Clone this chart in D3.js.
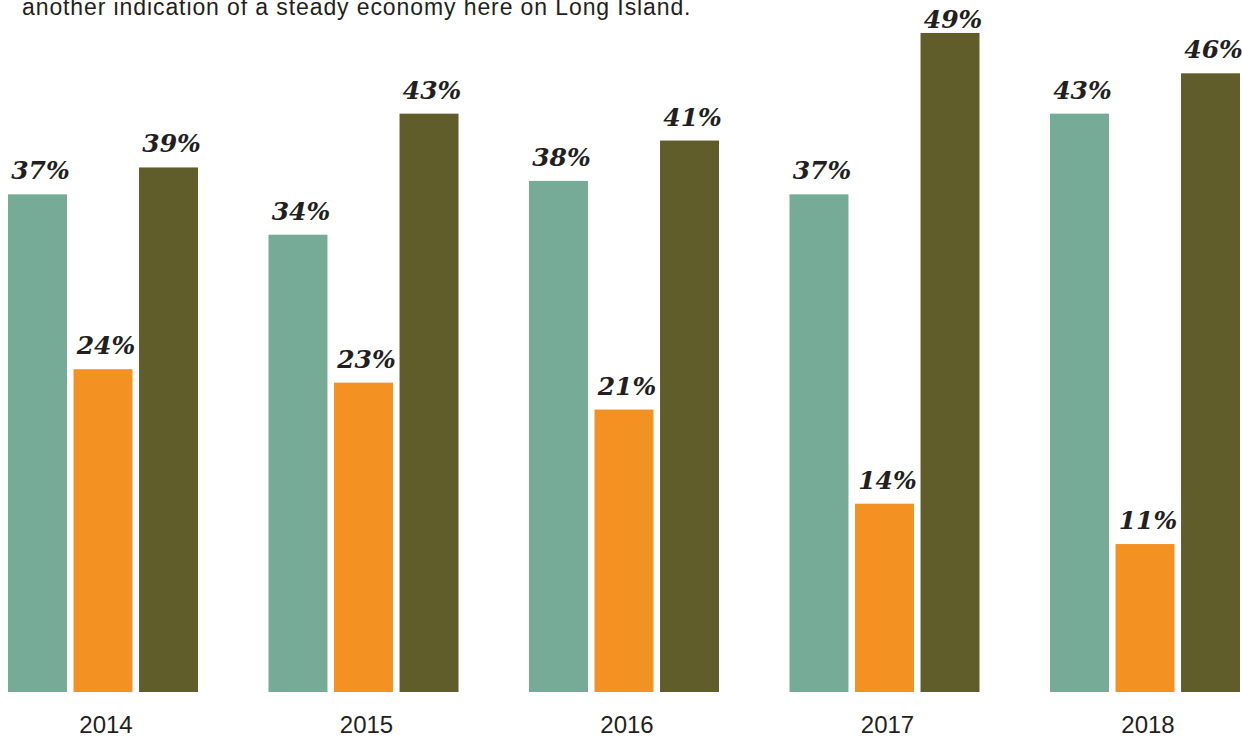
<!DOCTYPE html>
<html><head><meta charset="utf-8">
<script src="https://cdn.jsdelivr.net/npm/d3@7"></script>
<style>
html,body{margin:0;padding:0;background:#fff;overflow:hidden;}
svg{display:block;}
</style></head>
<body>
<svg id="chart" width="1242" height="741"></svg>
<script>
const years = ["2014","2015","2016","2017","2018"];
const seriesNames = ["A","B","C"];
const seriesA = [37, 34, 38, 37, 43];
const seriesB = [24, 23, 21, 14, 11];
const seriesC = [39, 43, 41, 49, 46];
const colors = ["#75ab97", "#f39123", "#605d2a"];
const introText = "another indication of a steady economy here on Long Island.";

const svg = d3.select("#chart");
const baseY = 692;

const x0 = d3.scaleBand().domain(years).range([8, 1240]).paddingInner(0.2706).paddingOuter(0);
const x1 = d3.scaleBand().domain(seriesNames).range([0, x0.bandwidth()]).paddingInner(0.1);
const y = d3.scaleLinear().domain([0, 50]).range([baseY, baseY - 50 * 13.45]);

svg.append("text")
  .attr("x", 22).attr("y", 15)
  .attr("font-family", "Liberation Sans, Arial, sans-serif")
  .attr("font-size", 23)
  .attr("letter-spacing", 0.9)
  .attr("fill", "#231f20")
  .text(introText);

const data = years.map((yr, i) => ({
  year: yr,
  vals: [seriesA[i], seriesB[i], seriesC[i]]
}));

const g = svg.selectAll("g.grp").data(data).enter().append("g")
  .attr("class", "grp")
  .attr("transform", d => `translate(${x0(d.year)},0)`);

g.selectAll("rect").data(d => d.vals.map((v, j) => ({v, s: seriesNames[j], j})))
  .enter().append("rect")
  .attr("x", d => x1(d.s))
  .attr("width", x1.bandwidth())
  .attr("y", d => y(d.v))
  .attr("height", d => baseY - y(d.v))
  .attr("fill", d => colors[d.j]);

g.selectAll("text.lbl").data(d => d.vals.map((v, j) => ({v, s: seriesNames[j], j})))
  .enter().append("text")
  .attr("class", "lbl")
  .attr("x", d => x1(d.s) + x1.bandwidth() / 2 + 3)
  .attr("y", d => Math.max(y(d.v) - 15, 28))
  .attr("text-anchor", "middle")
  .attr("font-family", "DejaVu Serif, serif")
  .attr("font-weight", "bold")
  .attr("font-style", "italic")
  .attr("font-size", 25)
  .attr("fill", "#231f20")
  .text(d => d.v + "%");

const xAxis = d3.axisBottom(x0).tickSize(0).tickPadding(0);
const ax = svg.append("g").attr("transform", `translate(0,${baseY})`).call(xAxis);
ax.select(".domain").remove();
ax.selectAll("text")
  .attr("x", 3)
  .attr("y", 41)
  .attr("dy", 0)
  .attr("font-family", "Liberation Sans, Arial, sans-serif")
  .attr("font-size", 24)
  .attr("fill", "#231f20");
</script>
</body></html>
